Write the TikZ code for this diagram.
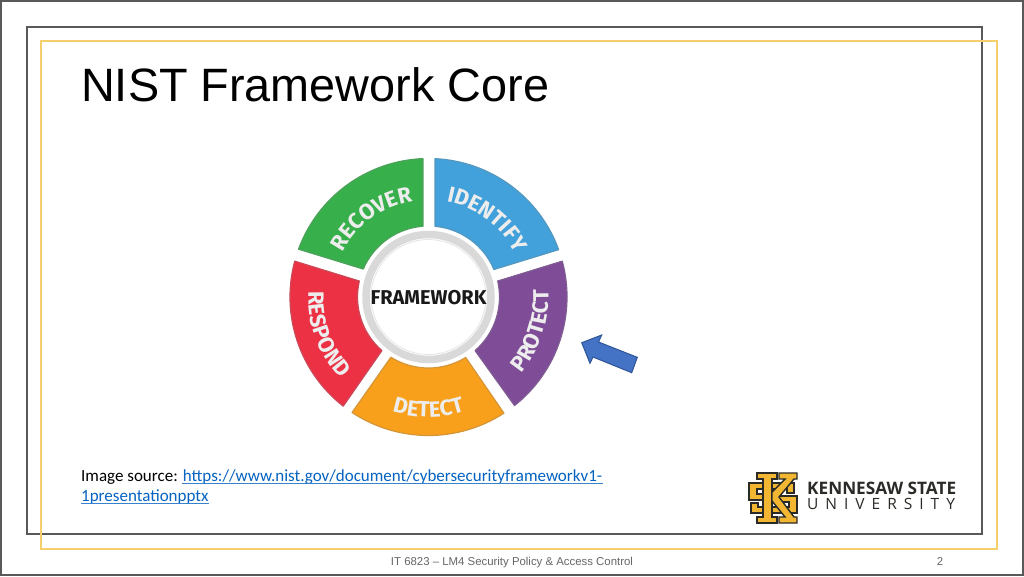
\documentclass[tikz,border=0pt]{standalone}
\usepackage{fontspec}
\setmainfont{Liberation Sans}
\newfontfamily\segfont{Fira Sans}
\newfontfamily\bodyfont{Carlito}
\newfontfamily\logofont{Open Sans}
\usetikzlibrary{decorations.text}
\definecolor{framegray}{HTML}{595959}
\definecolor{goldline}{HTML}{F5CF6B}
\definecolor{linkblue}{HTML}{0563C1}
\definecolor{segblue}{HTML}{42A1DA}
\definecolor{segpurple}{HTML}{7F4D98}
\definecolor{segorange}{HTML}{F8A01B}
\definecolor{segred}{HTML}{EC3145}
\definecolor{seggreen}{HTML}{37B04C}
\definecolor{ksugold}{HTML}{F2B632}
\definecolor{ksublack}{HTML}{2A2A26}
\definecolor{arrowblue}{HTML}{4472C4}
\definecolor{arrowedge}{HTML}{2F5597}
\tikzset{
 segment/.style={draw=#1!70!gray,line width=1.2pt,fill=#1,line join=round},
 seglabel/.style={postaction={decorate},decoration={text along path,text align=center,
   text={|\segfont\bfseries\fontsize{22}{22}\selectfont\color{white!93!black}|#1}}},
 logopart/.style={fill=ksugold,draw=ksublack,line width=1.4pt,line join=miter},
}
\begin{document}
\begin{tikzpicture}[x=1pt,y=-1pt]
\useasboundingbox (0,0) rectangle (1024,576);
\fill[white] (0,0) rectangle (1024,576);
% frames
\draw[framegray,line width=2pt] (1,1) rectangle (1023,575);
\draw[framegray,line width=1.6pt] (27,27) rectangle (982,534);
\draw[goldline,line width=1.8pt] (41,41) rectangle (997,549);
% title
\node[anchor=base west,inner sep=0pt,font=\fontsize{46.8}{48}\selectfont] (title) at (81,101) {NIST Framework Core};
% wheel
\coordinate (c) at (428.5,297);
\def\seg#1#2#3#4#5{%
 \path[segment=#5] ([shift={(-#1:138.5)}]c) arc[start angle=-#1,end angle=-#2,radius=138.5]
   -- ([shift={(-#3:71)}]c) arc[start angle=-#3,end angle=-#4,radius=71] -- cycle;}
\seg{87.3}{20}{22.8}{84.7}{segblue}
\seg{15}{-51.6}{-49}{13}{segpurple}
\seg{-57}{-123.5}{-122}{-58.4}{segorange}
\seg{-128}{-195}{-193}{-131}{segred}
\seg{159.8}{92.3}{94.5}{156.8}{seggreen}
% wheel labels
\path[seglabel=RECOVER] ([shift={(-166:97)}]c) arc[start angle=-166,end angle=-86,radius=97];
\path[seglabel=IDENTIFY] ([shift={(-93:97)}]c) arc[start angle=-93,end angle=-13,radius=97];
\path[seglabel=PROTECT] ([shift={(55:120)}]c) arc[start angle=55,end angle=-19,radius=120];
\path[seglabel=DETECT] ([shift={(127:120)}]c) arc[start angle=127,end angle=53,radius=120];
\path[seglabel=RESPOND] ([shift={(197:120)}]c) arc[start angle=197,end angle=123,radius=120];
% hub
\fill[white] (c) circle[radius=67];
\draw[black!15,line width=7.5pt] (c) circle[radius=62.5];
\draw[black!10,line width=.8pt] (c) circle[radius=57.5];
\node[inner sep=0pt,font=\segfont\bfseries\fontsize{20}{20}\selectfont,text=black!90] (hub) at (428.5,298) {FRAMEWORK};
% block arrow
\draw[arrowedge,fill=arrowblue,line width=1pt,line join=miter]
 (581.7,342.7) -- (601.7,335) -- (598.5,342) -- (637.3,357.3) -- (631.7,372.7) -- (593,357) -- (590,363.3) -- cycle;
% source
\node[anchor=base west,inner sep=0pt,font=\bodyfont\fontsize{17}{17}\selectfont] (src1) at (81,481) {Image source: \textcolor{linkblue}{https://www.nist.gov/document/cybersecurityframeworkv1-}};
\node[anchor=base west,inner sep=0pt,font=\bodyfont\fontsize{17}{17}\selectfont,text=linkblue] (src2) at (81,501) {1presentationpptx};
\draw[linkblue!80!white,line width=.9pt] (182,483.5) -- (603,483.5);
\draw[linkblue!80!white,line width=.9pt] (81,503.5) -- (209,503.5);
% logo: interlocked S and K
\draw[logopart] (749,483) -- (794,483) -- (794,493) -- (787,493) -- (787,489) -- (757,489) -- (757,494) -- (780,494) -- (780,500) -- (749,500) -- cycle;
\draw[logopart] (797,513) -- (751,513) -- (751,503) -- (758,503) -- (758,507) -- (789,507) -- (789,502) -- (767,502) -- (767,496) -- (797,496) -- cycle;
\draw[logopart] (757,473) -- (777,473) -- (777,479) -- (772,479) -- (772,517) -- (777,517) -- (777,523) -- (757,523) -- (757,517) -- (763,517) -- (763,479) -- (757,479) -- cycle;
\draw[logopart] (772,492) -- (785,479) -- (779,479) -- (779,473) -- (797,473) -- (797,479) -- (794,479) -- (779,497) -- (794,517) -- (797,517) -- (797,523) -- (779,523) -- (779,517) -- (785,517) -- (772,501) -- cycle;
\node[anchor=base west,inner sep=0pt,font=\logofont\bfseries\fontsize{17.2}{17}\selectfont,text=ksublack] (ksu1) at (807,494) {KENNESAW STATE};
\node[anchor=base west,inner sep=0pt,font=\logofont\fontsize{15.5}{16}\selectfont,text=ksublack] (ksu2) at (807,509.5) {U\hspace{7pt}N\hspace{7pt}I\hspace{7pt}V\hspace{7pt}E\hspace{7pt}R\hspace{7pt}S\hspace{7pt}I\hspace{7pt}T\hspace{7pt}Y};
% footer
\node[anchor=base,inner sep=0pt,font=\fontsize{11.4}{12}\selectfont,text=black!60] (foot) at (512,565) {IT 6823 -- LM4 Security Policy \& Access Control};
\node[anchor=base,inner sep=0pt,font=\fontsize{11.4}{12}\selectfont,text=black!60] (page) at (940,565) {2};
\end{tikzpicture}
\end{document}
